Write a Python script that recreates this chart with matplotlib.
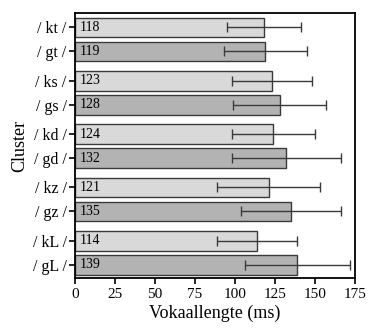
import matplotlib.pyplot as plt
import numpy as np

# Gemiddelde vokaallengte per cluster (ms) en standaarddeviatie
clusters = ['/ kt /', '/ gt /', '/ ks /', '/ gs /', '/ kd /', '/ gd /', '/ kz /', '/ gz /', '/ kL /', '/ gL /']
lengte = [118, 119, 123, 128, 124, 132, 121, 135, 114, 139]
sd = [23, 26, 25, 29, 26, 34, 32, 31, 25, 33]
kleuren = ['#d9d9d9', '#b3b3b3'] * 5

plt.rcParams['font.family'] = ['Liberation Serif', 'DejaVu Serif']

# posities: paren van twee balken met een extra tussenruimte
pos = []
for i in range(5):
    pos += [i * 2.22, i * 2.22 + 1]
pos = np.array(pos)

fig = plt.figure(figsize=(3.79, 3.36), dpi=100)
ax = fig.add_axes([75 / 379, 1 - 278 / 336, 280 / 379, 265 / 336])

ax.barh(pos, lengte, height=0.82, color=kleuren, edgecolor='#3a3a3a', linewidth=1.0,
        xerr=sd, error_kw=dict(ecolor='#3a3a3a', elinewidth=1.0, capsize=3.5, capthick=1.0))

for p, v in zip(pos, lengte):
    ax.text(3, p, str(v), va='center', ha='left', fontsize=10)

ax.set_yticks(pos)
ax.set_yticklabels(clusters, fontsize=11.5)
ax.set_ylim(pos[-1] + 0.55, pos[0] - 0.6)
ax.set_xlim(0, 175)
ax.set_xticks(np.arange(0, 176, 25))
ax.tick_params(axis='x', labelsize=11, direction='out', length=4, width=1.2)
ax.tick_params(axis='y', direction='out', length=4, width=1.2, pad=2)
for s in ax.spines.values():
    s.set_linewidth(1.3)

ax.set_xlabel('Vokaallengte (ms)', fontsize=13, labelpad=2)
ax.set_ylabel('Cluster', fontsize=13, labelpad=3)

fig.savefig('out.png', dpi=100)
